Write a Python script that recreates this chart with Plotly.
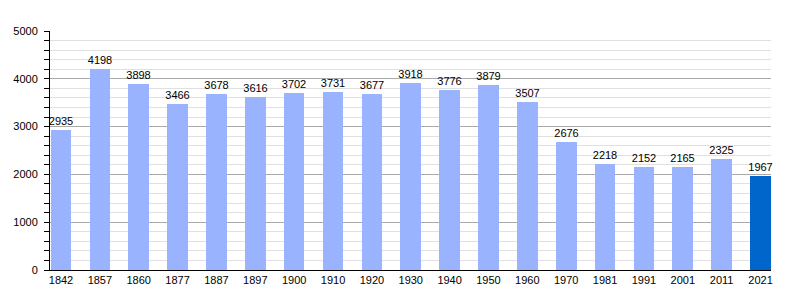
import plotly.graph_objects as go

years = ["1842", "1857", "1860", "1877", "1887", "1897", "1900", "1910", "1920", "1930",
         "1940", "1950", "1960", "1970", "1981", "1991", "2001", "2011", "2021"]
population = [2935, 4198, 3898, 3466, 3678, 3616, 3702, 3731, 3677, 3918,
              3776, 3879, 3507, 2676, 2218, 2152, 2165, 2325, 1967]
y_ticks = [0, 1000, 2000, 3000, 4000, 5000]

colors = ["#99b3ff"] * (len(years) - 1) + ["#0066cc"]
xpos = list(range(len(years)))

fig = go.Figure(go.Bar(
    x=xpos, y=population, marker=dict(color=colors, line=dict(width=0)),
    width=0.53, text=[str(v) for v in population], textposition="outside",
    constraintext="none",
    textfont=dict(family="Liberation Sans, Arial", size=11, color="#000"),
    cliponaxis=False,
))

fig.update_layout(
    width=800, height=300,
    margin=dict(l=50, r=29, t=31, b=30),
    plot_bgcolor="white", paper_bgcolor="white",
    font=dict(family="Liberation Sans, Arial", size=11, color="#000"),
    showlegend=False, bargap=0,
    xaxis=dict(
        range=[-0.283, 18.27], tickmode="array", tickvals=xpos, ticktext=years,
        showgrid=False, showline=True, linecolor="#000", linewidth=1,
        ticks="", zeroline=False, fixedrange=True,
    ),
    yaxis=dict(
        range=[0, 5000], tickmode="array", tickvals=y_ticks,
        showgrid=True, gridcolor="#aaaaaa", gridwidth=1,
        showline=True, linecolor="#000", linewidth=1,
        ticks="outside", ticklen=5, tickcolor="#000", ticklabelstandoff=4,
        minor=dict(dtick=200, showgrid=True, gridcolor="#e0e0e0", gridwidth=1,
                   ticks="outside", ticklen=5, tickcolor="#000"),
        zeroline=False, fixedrange=True,
    ),
)

fig.write_html("out.html")
